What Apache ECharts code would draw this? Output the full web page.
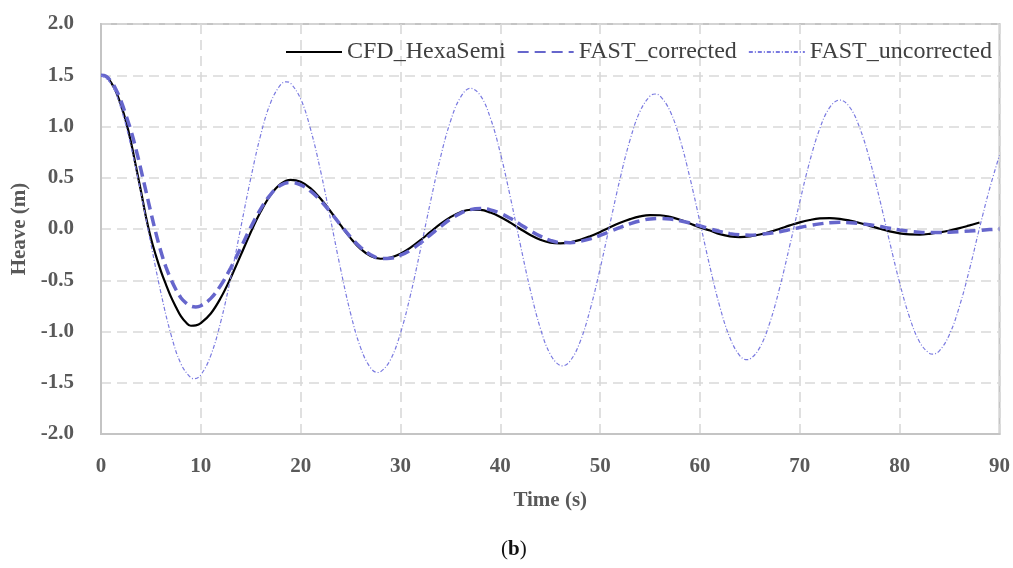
<!DOCTYPE html>
<html>
<head>
<meta charset="utf-8">
<script src="https://cdn.jsdelivr.net/npm/echarts@6/dist/echarts.min.js"></script>
<style>
html,body{margin:0;padding:0;background:#fff;}
#chart{width:1013px;height:568px;}
</style>
</head>
<body>
<div id="chart"></div>
<script>
// ---- data ----
const seriesNames = ['CFD_HexaSemi', 'FAST_corrected', 'FAST_uncorrected'];
const xTicks = [0, 10, 20, 30, 40, 50, 60, 70, 80, 90];
const yTicks = [-2.0, -1.5, -1.0, -0.5, 0.0, 0.5, 1.0, 1.5, 2.0];

const timeCFD = [0,0.5,1,1.5,2,2.5,3,3.5,4,4.5,5,5.5,6,6.5,7,7.5,8,8.5,9,9.5,
  10,11,12,13,14,15,16,17,18,19,20,21,22,23,24,25,26,27,28,29,30,31,32,33,34,35,36,37,38,39,
  40,41,42,43,44,45,46,47,48,49,50,51,52,53,54,55,56,57,58,59,60,61,62,63,64,65,66,67,68,69,
  70,71,72,73,74,75,76,77,78,79,80,81,82,83,84,85,86,87,88];
const heaveCFD = [1.50,1.49,1.43,1.34,1.21,1.05,0.85,0.61,0.37,0.12,-0.09,-0.26,-0.41,-0.54,-0.66,-0.76,-0.85,-0.91,-0.944,-0.94,
  -0.918,-0.824,-0.671,-0.475,-0.255,-0.032,0.170,0.333,0.440,0.480,0.460,0.396,0.295,0.171,0.037,-0.089,-0.194,-0.263,-0.290,-0.278,
  -0.241,-0.182,-0.109,-0.029,0.049,0.116,0.164,0.188,0.186,0.161,
  0.118,0.062,0.000,-0.058,-0.104,-0.133,-0.140,-0.129,-0.106,-0.071,-0.029,0.017,0.060,0.096,0.123,0.136,0.134,0.118,0.090,0.053,
  0.015,-0.015,-0.050,-0.072,-0.080,-0.072,-0.054,-0.028,0.003,0.035,
  0.065,0.088,0.103,0.106,0.099,0.082,0.059,0.031,0.003,-0.023,-0.042,-0.053,-0.054,-0.047,-0.033,-0.015,0.008,0.035,0.063];

const timeCorr = [0,0.5,1,1.5,2,2.5,3,3.5,4,4.5,5,5.5,6,6.5,7,7.5,8,8.5,9,9.5,
  10,11,12,13,14,15,16,17,18,19,20,21,22,23,24,25,26,27,28,29,30,31,32,33,34,35,36,37,38,39,
  40,41,42,43,44,45,46,47,48,49,50,51,52,53,54,55,56,57,58,59,60,61,62,63,64,65,66,67,68,69,
  70,71,72,73,74,75,76,77,78,79,80,81,82,83,84,85,86,87,88,89,90];
const heaveCorr = [1.50,1.49,1.44,1.36,1.25,1.11,0.96,0.78,0.58,0.37,0.16,-0.04,-0.22,-0.37,-0.49,-0.59,-0.67,-0.72,-0.752,-0.760,
  -0.748,-0.677,-0.549,-0.378,-0.183,0.016,0.196,0.339,0.428,0.455,0.431,0.369,0.276,0.162,0.039,-0.079,-0.179,-0.251,-0.287,-0.285,
  -0.256,-0.205,-0.136,-0.057,0.023,0.096,0.153,0.189,0.200,0.187,
  0.153,0.104,0.045,-0.016,-0.070,-0.111,-0.132,-0.133,-0.120,-0.096,-0.062,-0.024,0.015,0.051,0.080,0.098,0.103,0.097,0.081,0.058,
  0.030,0.001,-0.025,-0.045,-0.057,-0.060,-0.054,-0.042,-0.026,-0.006,
  0.015,0.034,0.050,0.061,0.065,0.062,0.054,0.041,0.025,0.007,-0.009,-0.023,-0.032,-0.035,-0.034,-0.031,-0.026,-0.020,-0.013,-0.006,0.000];

const timeUncorr = [0,1,2,3,4,5,6,7,8,9,9.33,10,11,12,13,14,15,16,17,18,18.57,19,20,21,22,23,24,25,26,27,27.73,28,29,
  30,31,32,33,34,35,36,37,38,39,40,41,42,43,44,45,46,46.2,47,48,49,50,51,52,53,54,55,55.5,56,57,58,59,
  60,61,62,63,64,64.7,65,66,67,68,69,70,71,72,73,74,75,76,77,78,79,80,81,82,83,83.3,84,85,86,87,88,89,90];
const heaveUncorr = [1.50,1.417,1.177,0.807,0.349,-0.147,-0.622,-1.025,-1.314,-1.451,-1.46,-1.423,-1.233,-0.903,-0.472,0.013,0.494,0.919,1.235,1.408,1.436,1.421,1.269,0.971,0.564,0.091,-0.390,-0.823,-1.157,-1.355,-1.40,-1.394,-1.275,
  -1.015,-0.643,-0.200,0.264,0.697,1.049,1.283,1.372,1.303,1.084,0.741,0.312,-0.151,-0.594,-0.966,-1.222,-1.332,-1.335,-1.287,-1.097,-0.784,-0.384,0.058,0.494,0.872,1.150,1.298,1.317,1.298,1.151,0.873,0.496,
  0.065,-0.371,-0.763,-1.062,-1.238,-1.275,-1.269,-1.155,-0.912,-0.566,-0.158,0.267,0.662,0.980,1.186,1.258,1.188,0.986,0.675,0.289,-0.127,-0.526,-0.864,-1.102,-1.214,-1.22,-1.186,-1.026,-0.751,-0.392,0.010,0.39,0.72];

const pair = (ts, vs) => ts.map((t, i) => [t, vs[i]]);

const FONT = "'Liberation Serif', 'DejaVu Serif', serif";
const chart = echarts.init(document.getElementById('chart'), null, {renderer: 'canvas'});

chart.setOption({
  backgroundColor: '#ffffff',
  animation: false,
  grid: {
    left: 101, right: 11, top: 24, bottom: 134,
    show: true, borderColor: '#C4C4C4', borderWidth: 2, backgroundColor: 'transparent'
  },
  legend: {
    left: 285, top: 40, padding: 0,
    itemWidth: 56, itemHeight: 14, itemGap: 11,
    itemStyle: {opacity: 0, borderWidth: 0},
    textStyle: {fontFamily: FONT, fontSize: 24, color: '#404040'},
    data: seriesNames
  },
  xAxis: {
    type: 'value', min: xTicks[0], max: xTicks[xTicks.length - 1], interval: 10,
    name: 'Time (s)', nameLocation: 'middle', nameGap: 56,
    nameTextStyle: {fontFamily: FONT, fontSize: 21, fontWeight: 'bold', color: '#595959'},
    axisLine: {show: true, onZero: false, lineStyle: {color: '#C4C4C4', width: 2}},
    axisTick: {show: false},
    axisLabel: {fontFamily: FONT, fontSize: 21, fontWeight: 'bold', color: '#595959', margin: 22},
    splitLine: {show: true, lineStyle: {color: '#D9D9D9', width: 1.6, type: [10, 6]}}
  },
  yAxis: {
    type: 'value', min: yTicks[0], max: yTicks[yTicks.length - 1], interval: 0.5,
    name: 'Heave (m)', nameLocation: 'middle', nameGap: 68,
    nameTextStyle: {fontFamily: FONT, fontSize: 21, fontWeight: 'bold', color: '#595959'},
    axisLine: {show: true, onZero: false, lineStyle: {color: '#C4C4C4', width: 2}},
    axisTick: {show: false},
    axisLabel: {fontFamily: FONT, fontSize: 21, fontWeight: 'bold', color: '#595959', margin: 27,
      formatter: v => v.toFixed(1)},
    splitLine: {show: true, lineStyle: {color: '#D9D9D9', width: 1.6, type: [10, 6]}}
  },
  title: {
    text: '{a|(}{b|b}{a|)}',
    left: 496, top: 534,
    textStyle: {
      fontWeight: 'normal',
      rich: {
        a: {fontFamily: FONT, fontSize: 21, fontWeight: 'normal', color: '#111'},
        b: {fontFamily: FONT, fontSize: 21, fontWeight: 'bold', color: '#111'}
      }
    }
  },
  series: [
    {
      name: seriesNames[0], type: 'line', data: pair(timeCFD, heaveCFD),
      showSymbol: false, symbol: 'none', smooth: 0.4,
      lineStyle: {color: '#000000', width: 2.2},
      itemStyle: {color: '#000000'}, z: 3
    },
    {
      name: seriesNames[1], type: 'line', data: pair(timeCorr, heaveCorr),
      showSymbol: false, symbol: 'none', smooth: 0.4,
      lineStyle: {color: '#6666CC', width: 3.5, type: [11, 6]},
      itemStyle: {color: '#6666CC'}, z: 4
    },
    {
      name: seriesNames[2], type: 'line', data: pair(timeUncorr, heaveUncorr),
      showSymbol: false, symbol: 'none', smooth: 0.4,
      lineStyle: {color: '#7A7AE0', width: 1.2, type: [4, 2, 1, 2]},
      itemStyle: {color: '#7A7AE0'}, z: 5
    }
  ]
});
</script>
</body>
</html>
